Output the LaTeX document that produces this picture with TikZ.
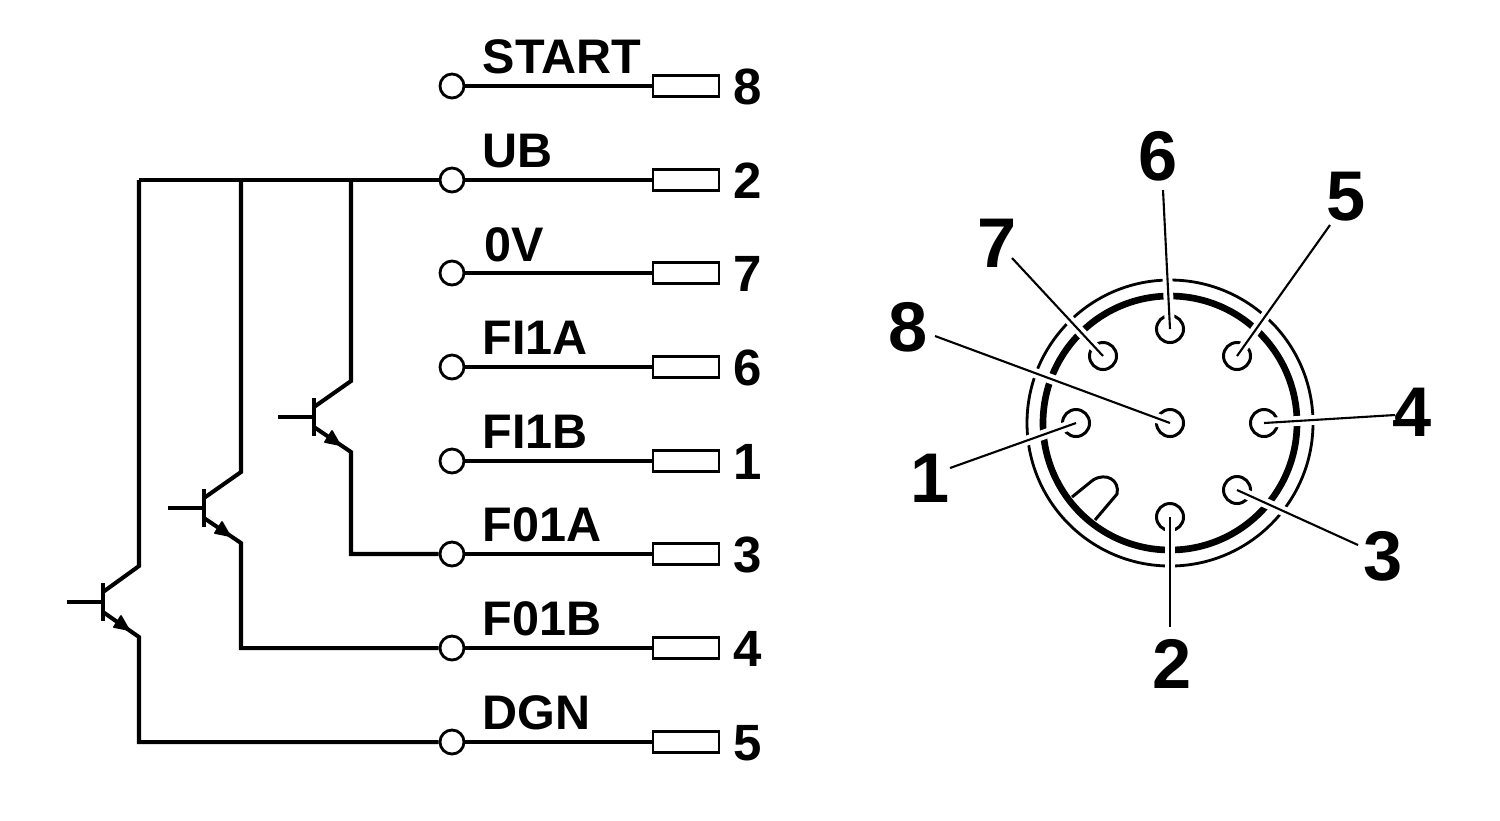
\documentclass[tikz,border=0pt]{standalone}
\usepackage{fontspec}
\setmainfont{Liberation Sans}
\tikzset{
  wire/.style={line width=1.15pt},
  term/.style={draw,circle,fill=white,line width=0.8pt,inner sep=0pt,minimum size=0.24cm},
  fuse/.style={draw,rectangle,fill=white,line width=0.8pt,inner sep=0pt,minimum width=0.66cm,minimum height=0.21cm},
  sig/.style={font=\bfseries\fontsize{13.8}{14}\selectfont,inner sep=0pt,anchor=base west},
  num/.style={font=\bfseries\fontsize{14.5}{15}\selectfont,inner sep=0pt,anchor=base west},
  pin/.style={draw,circle,line width=0.85pt,inner sep=0pt,minimum size=0.27cm},
  pinnum/.style={font=\bfseries\fontsize{20}{20}\selectfont,inner sep=0pt},
  leader/.style={draw=white,double=black,line width=1.1pt,double distance=0.6pt},
  tip/.style={fill=black,draw=black,line width=0.5pt,line join=round}
}
\begin{document}
\begin{tikzpicture}[x=0.01cm,y=0.01cm]
\useasboundingbox (0,0) rectangle (1500,-820);
% terminals
\node [term] (t8) at (452,-86) {};
\node [term] (t2) at (452,-180) {};
\node [term] (t7) at (452,-273) {};
\node [term] (t6) at (452,-367) {};
\node [term] (t1) at (452,-461) {};
\node [term] (t3) at (452,-554) {};
\node [term] (t4) at (452,-648) {};
\node [term] (t5) at (452,-742) {};
\node [fuse] (f8) at (686,-86) {};
\node [fuse] (f2) at (686,-180) {};
\node [fuse] (f7) at (686,-273) {};
\node [fuse] (f6) at (686,-367) {};
\node [fuse] (f1) at (686,-461) {};
\node [fuse] (f3) at (686,-554) {};
\node [fuse] (f4) at (686,-648) {};
\node [fuse] (f5) at (686,-742) {};
\draw [wire] (t8) -- (f8);
\draw [wire] (t2) -- (f2);
\draw [wire] (t7) -- (f7);
\draw [wire] (t6) -- (f6);
\draw [wire] (t1) -- (f1);
\draw [wire] (t3) -- (f3);
\draw [wire] (t4) -- (f4);
\draw [wire] (t5) -- (f5);
\node [sig] (sstart) at (482,-73) {START};
\node [sig] (sub) at (482,-167) {UB};
\node [sig] (szero) at (484,-261) {0V};
\node [sig] (sfia) at (482,-354) {FI1A};
\node [sig] (sfib) at (482,-448) {FI1B};
\node [sig] (sfoa) at (482,-541) {F01A};
\node [sig] (sfob) at (482,-635) {F01B};
\node [sig] (sdgn) at (482,-729) {DGN};
\node [num] (n8) at (733,-104) {8};
\node [num] (n2) at (733,-198) {2};
\node [num] (n7) at (733,-291) {7};
\node [num] (n6) at (733,-385) {6};
\node [num] (n1) at (733,-479) {1};
\node [num] (n3) at (733,-572) {3};
\node [num] (n4) at (733,-666) {4};
\node [num] (n5) at (733,-760) {5};
% transistor at F01A
\coordinate (bc) at (351,-381);
\coordinate (be) at (351,-452);
\draw [wire] (t2) -- (139,-180);
\draw [wire] (351,-180) -- (bc) -- (314,-407);
\draw [wire] (314,-427) -- (be) |- (t3);
\draw [tip] (340,-445) -- (325,-442) -- (332,-431) -- cycle;
\draw [wire] (314,-398) -- (314,-436);
\draw [wire] (278,-417) -- (314,-417);
% transistor at F01B
\coordinate (cc) at (241,-472);
\coordinate (ce) at (241,-543);
\draw [wire] (241,-180) -- (cc) -- (204,-498);
\draw [wire] (204,-518) -- (ce) |- (t4);
\draw [tip] (230,-536) -- (215,-533) -- (222,-522) -- cycle;
\draw [wire] (204,-489) -- (204,-527);
\draw [wire] (168,-508) -- (204,-508);
% transistor at DGN
\coordinate (dc) at (139,-566);
\coordinate (de) at (139,-637);
\draw [wire] (139,-180) -- (dc) -- (103,-592);
\draw [wire] (103,-612) -- (de) |- (t5);
\draw [tip] (129,-630) -- (114,-627) -- (121,-616) -- cycle;
\draw [wire] (103,-583) -- (103,-621);
\draw [wire] (67,-602) -- (103,-602);
% connector face
\coordinate (m) at (1170,-423);
\draw [line width=0.8pt] (m) circle (143);
\draw [line width=1.9pt] (m) circle (127);
\draw [line width=0.85pt] (1072,-497) -- (1093,-480) .. controls (1106,-472) and (1120,-480) .. (1117,-494) -- (1095,-520);
\node [pin] (p6) at (1170,-329) {};
\node [pin] (p7) at (1103,-356) {};
\node [pin] (p5) at (1237,-356) {};
\node [pin] (p8) at (1170,-423) {};
\node [pin] (p1) at (1076,-423) {};
\node [pin] (p4) at (1264,-423) {};
\node [pin] (p3) at (1237,-490) {};
\node [pin] (p2) at (1170,-517) {};
\node [pinnum] (d6) at (1158,-156) {6};
\node [pinnum] (d7) at (997,-243) {7};
\node [pinnum] (d5) at (1346,-197) {5};
\node [pinnum] (d8) at (908,-327) {8};
\node [pinnum] (d1) at (930,-478) {1};
\node [pinnum] (d4) at (1412,-412) {4};
\node [pinnum] (d3) at (1383,-556) {3};
\node [pinnum] (d2) at (1172,-664) {2};
\coordinate (l6) at (1163,-190);
\coordinate (l7) at (1012,-258);
\coordinate (l5) at (1330,-225);
\coordinate (l8) at (935,-336);
\coordinate (l1) at (950,-468);
\coordinate (l4) at (1395,-415);
\coordinate (l3) at (1358,-545);
\coordinate (l2) at (1170,-627);
\draw [leader] (p6.center) -- (l6);
\draw [leader] (p7.center) -- (l7);
\draw [leader] (p5.center) -- (l5);
\draw [leader] (p8.center) -- (l8);
\draw [leader] (p1.center) -- (l1);
\draw [leader] (p4.center) -- (l4);
\draw [leader] (p3.center) -- (l3);
\draw [leader] (p2.center) -- (l2);
\end{tikzpicture}
\end{document}
